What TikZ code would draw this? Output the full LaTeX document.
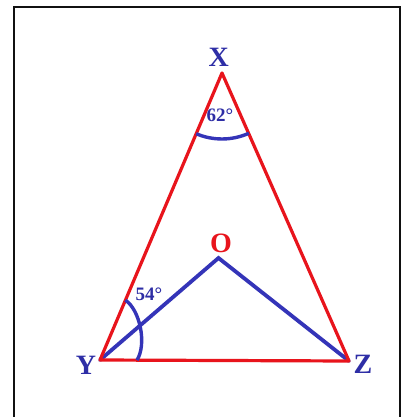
\documentclass[tikz,border=0pt]{standalone}
\usepackage{fontspec}
\setmainfont{Liberation Serif}
\usepackage{xcolor}
\usepackage{tikz}
\usetikzlibrary{calc}
\definecolor{cSide}{HTML}{E8141C}
\definecolor{cSeg}{HTML}{3434B8}
\definecolor{cLbl}{HTML}{2E2EA6}
\definecolor{cFrm}{HTML}{111111}
\tikzset{
  side/.style={draw=cSide,line width=3.2pt,line cap=round,line join=round},
  seg/.style ={draw=cSeg,line width=3.8pt,line cap=round},
  ang/.style ={draw=cSeg,line width=3.4pt},
  vlbl/.style={text=cLbl,font=\bfseries\fontsize{28}{28}\selectfont,inner sep=0pt},
  albl/.style={text=cLbl,font=\bfseries\fontsize{19}{19}\selectfont,inner sep=0pt},
  frm/.style ={draw=cFrm,line width=2pt},
}
\begin{document}
\begin{tikzpicture}[x=1pt,y=-1pt]
  \useasboundingbox (0,0) rectangle (406,417);
  \fill[white] (0,0) rectangle (406,417);
  % --- frame ---
  \draw[frm] (13.5,430) -- (13.5,7.5) -- (400,7.5) -- (400,430);
  % --- vertices ---
  \coordinate (X) at (222,73);
  \coordinate (Y) at (100,360);
  \coordinate (Z) at (349,361);
  \coordinate (O) at (218.5,258);
  % --- segments to O ---
  \draw[seg] (Y) -- (O) -- (Z);
  % --- triangle ---
  \draw[side] (X) -- (Y) -- (Z) -- cycle;
  % --- angle marks ---
  \draw[ang] ($(X)!66pt!(Y)$) arc[start angle=247,end angle=294,radius=66pt];
  \draw[ang] ($(Y)!65pt!(X)$) .. controls (140,310) and (147,344) .. ($(Y)!37pt!(Z)$);
  % --- labels ---
  \node[vlbl] (lX) at (218.7,57.5) {X};
  \node[vlbl] (lY) at (86,365) {Y};
  \node[vlbl] (lZ) at (363,364) {Z};
  \node[vlbl,text=cSide] (lO) at (221,243.5) {O};
  \node[albl] (aX) at (220,115) {62\textdegree};
  \node[albl] (aY) at (149,294) {54\textdegree};
\end{tikzpicture}
\end{document}
